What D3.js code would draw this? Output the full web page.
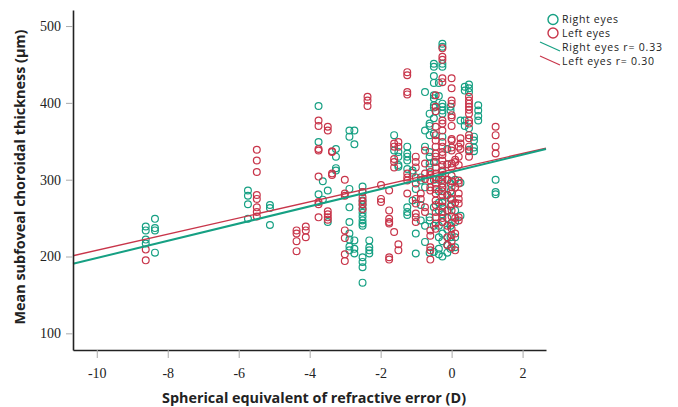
<!DOCTYPE html>
<html>
<head>
<meta charset="utf-8">
<script src="https://cdn.jsdelivr.net/npm/d3@7"></script>
<style>
  body { margin: 0; background: #fff; }
  svg { display: block; }
  .tick text { font-family: "Liberation Serif", "DejaVu Serif", serif; }
</style>
</head>
<body>
<div id="chart"></div>
<script>
const WIDTH = 678;
const HEIGHT = 407;

const GREEN = "#16a083";
const RED = "#c8354a";

// spherical equivalent (D) -> list of choroidal thickness values (µm)
const rightEyes = [
  [-8.62, [239, 234, 222, 217]],
  [-8.36, [249, 237, 234, 205]],
  [-5.74, [286, 279, 268, 249]],
  [-5.12, [267, 263, 241]],
  [-3.75, [396, 349, 281]],
  [-3.63, [298, 274]],
  [-3.49, [286, 245]],
  [-3.26, [340, 330, 315, 312]],
  [-2.88, [364, 356, 288, 264, 245, 230, 222, 213, 208]],
  [-2.74, [364, 346, 221, 210, 204]],
  [-2.51, [291, 284, 273, 267, 262, 257, 252, 247, 243, 240, 199, 193, 186, 166]],
  [-2.32, [221, 212, 208, 204]],
  [-1.62, [358, 338]],
  [-1.5, [336, 330, 319, 317]],
  [-1.25, [343, 334, 330, 325, 314, 264, 258, 254]],
  [-1.1, [312, 309, 273]],
  [-1.01, [288, 230, 204]],
  [-0.87, [303, 299, 267, 247]],
  [-0.75, [414, 364, 343, 290, 240, 219]],
  [-0.62, [386, 373, 370, 358, 336, 330, 321, 316, 251, 247, 205]],
  [-0.5, [451, 447, 435, 426, 410, 406, 397, 394, 380, 360, 323, 300, 264, 240, 206]],
  [-0.36, [426, 409, 300, 285, 270, 260, 240, 225, 210, 203]],
  [-0.26, [477, 473, 451, 447, 399, 395, 390, 386, 356, 310, 290, 270, 255, 245, 230, 220, 200]],
  [-0.12, [340, 320, 300, 280, 260, 250, 235, 215, 205]],
  [-0.03, [395, 390, 295, 285, 275, 265, 240, 225, 210]],
  [0.1, [300, 260, 245, 225, 212]],
  [0.25, [377, 296, 253]],
  [0.37, [421, 416, 377, 370]],
  [0.49, [424, 419, 414, 367, 339]],
  [0.63, [356, 351, 342, 337]],
  [0.75, [397, 390, 383, 377]],
  [1.24, [300, 284, 281]]
];

const leftEyes = [
  [-8.62, [209, 195]],
  [-5.49, [339, 325, 310, 280, 275, 264, 258, 252]],
  [-4.37, [234, 230, 220, 207]],
  [-4.11, [239, 234, 225]],
  [-3.75, [377, 370, 340, 338, 304, 271, 268, 251]],
  [-3.49, [369, 364, 259, 255, 251, 248]],
  [-3.37, [337, 336, 308, 306]],
  [-3.01, [300, 282, 279, 234, 224, 203, 194]],
  [-2.51, [284, 277, 272, 268, 262]],
  [-2.37, [408, 403, 396]],
  [-1.99, [293, 275, 271]],
  [-1.76, [286, 260, 249, 245, 243, 199, 196]],
  [-1.62, [347, 343, 327, 323, 316, 232]],
  [-1.5, [349, 343, 216, 208]],
  [-1.25, [440, 436, 414, 411, 308, 303, 299, 282]],
  [-1.01, [330, 323, 316, 303, 295, 275, 269, 256, 251, 245]],
  [-0.87, [282, 275]],
  [-0.75, [338, 321, 308, 301, 264, 258]],
  [-0.6, [310, 306, 299, 290, 286, 234, 227, 212, 208, 196]],
  [-0.45, [410, 395, 389, 369, 358, 351, 343, 334, 330, 323, 316, 308, 301, 295, 288, 282, 273, 267, 258, 251, 243, 236]],
  [-0.26, [471, 460, 456, 432, 427, 377, 373, 364, 349, 343, 336, 332, 325, 319, 312, 305, 300, 295, 290, 285, 280, 272, 265, 258, 250, 245]],
  [-0.12, [320, 300, 280, 260, 240, 225, 215]],
  [0.0, [432, 419, 403, 399, 384, 381, 370, 353, 351, 342, 338, 321, 316, 305, 298, 290, 282, 275, 268, 260, 252, 244, 236, 228, 220, 212]],
  [0.1, [326, 323, 290, 270, 250, 230, 208]],
  [0.2, [343, 330, 319, 299, 295, 282, 275, 269, 251, 247]],
  [0.25, [354, 347, 340]],
  [0.49, [408, 403, 399, 395, 391, 386, 377, 373, 358, 354, 343, 337, 330]],
  [1.24, [369, 358, 343, 334]]
];

// fit lines: [se, thickness] at the two ends of the x range
const rightFit = [[-10.67, 190.5], [2.66, 340]];
const leftFit = [[-10.67, 201], [2.66, 341]];

const X_TICKS = [-10, -8, -6, -4, -2, 0, 2];
const Y_TICKS = [100, 200, 300, 400, 500];

const X_SCALE = d3.scaleLinear().domain([-10.67, 2.66]).range([73, 546]);
const Y_SCALE = d3.scaleLinear().domain([78.3, 520.9]).range([350, 10]);

const svg = d3.select("#chart").append("svg")
  .attr("width", WIDTH)
  .attr("height", HEIGHT);

// points
function flat(groups) {
  return groups.flatMap(([se, vals]) => vals.map(v => [se, v]));
}

svg.append("g").selectAll("circle")
  .data(flat(rightEyes))
  .enter().append("circle")
  .attr("cx", d => X_SCALE(d[0]))
  .attr("cy", d => Y_SCALE(d[1]))
  .attr("r", 3.4)
  .attr("fill", "none")
  .attr("stroke", GREEN)
  .attr("stroke-width", 1.2);

svg.append("g").selectAll("circle")
  .data(flat(leftEyes))
  .enter().append("circle")
  .attr("cx", d => X_SCALE(d[0]))
  .attr("cy", d => Y_SCALE(d[1]))
  .attr("r", 3.4)
  .attr("fill", "none")
  .attr("stroke", RED)
  .attr("stroke-width", 1.2);

// fit lines
const line = d3.line().x(d => X_SCALE(d[0])).y(d => Y_SCALE(d[1]));
svg.append("path").datum(leftFit)
  .attr("d", line).attr("fill", "none")
  .attr("stroke", RED).attr("stroke-width", 1.4);
svg.append("path").datum(rightFit)
  .attr("d", line).attr("fill", "none")
  .attr("stroke", GREEN).attr("stroke-width", 2);

// axes (plain hyphen for negatives, like the original)
const fmt = d => String(d);
const yAxis = svg.append("g")
  .attr("transform", "translate(73,0)")
  .call(d3.axisLeft(Y_SCALE).tickValues(Y_TICKS).tickFormat(fmt).tickSize(7).tickSizeOuter(0).tickPadding(5));
const xAxis = svg.append("g")
  .attr("transform", "translate(0,350)")
  .call(d3.axisBottom(X_SCALE).tickValues(X_TICKS).tickFormat(fmt).tickSize(8).tickSizeOuter(0).tickPadding(10));

[yAxis, xAxis].forEach(ax => {
  ax.attr("font-family", null);
  ax.select(".domain").attr("stroke", "#222").attr("stroke-width", 1.6);
  ax.selectAll(".tick line").attr("stroke", "#aaa");
  ax.selectAll(".tick text")
    .attr("fill", "#222")
    .style("font-family", "'Liberation Serif', 'DejaVu Serif', serif")
    .style("font-size", "14px");
});

// axis titles
svg.append("text")
  .attr("x", 314).attr("y", 403)
  .attr("text-anchor", "middle")
  .attr("font-family", "'Open Sans', sans-serif")
  .attr("font-weight", "bold")
  .attr("font-size", "14.5px")
  .attr("fill", "#222")
  .attr("textLength", 304)
  .attr("lengthAdjust", "spacingAndGlyphs")
  .text("Spherical equivalent of refractive error (D)");

svg.append("text")
  .attr("transform", "translate(25,177) rotate(-90)")
  .attr("text-anchor", "middle")
  .attr("font-family", "'Open Sans', sans-serif")
  .attr("font-weight", "bold")
  .attr("font-size", "15px")
  .attr("fill", "#222")
  .attr("textLength", 295)
  .attr("lengthAdjust", "spacingAndGlyphs")
  .text("Mean subfoveal choroidal thickness (µm)");

// legend
const legend = svg.append("g").attr("font-family", "'Open Sans', sans-serif")
  .attr("font-size", "10.5px").attr("fill", "#222");
const legendItems = [
  { type: "circle", color: GREEN, label: "Right eyes", y: 19.5 },
  { type: "circle", color: RED, label: "Left eyes", y: 33 },
  { type: "line", color: GREEN, label: "Right eyes r= 0.33", y: 47 },
  { type: "line", color: RED, label: "Left eyes r= 0.30", y: 61 }
];
legendItems.forEach(it => {
  if (it.type === "circle") {
    legend.append("circle")
      .attr("cx", 553).attr("cy", it.y).attr("r", 5)
      .attr("fill", "none").attr("stroke", it.color).attr("stroke-width", 1.4);
  } else {
    legend.append("line")
      .attr("x1", 540).attr("y1", it.y - 5)
      .attr("x2", 560).attr("y2", it.y + 4)
      .attr("stroke", it.color).attr("stroke-width", 1.2);
  }
  legend.append("text")
    .attr("x", 562).attr("y", it.y)
    .attr("dy", "0.35em")
    .attr("textLength", it.type === "circle" ? (it.label.startsWith("Right") ? 56 : 48) : (it.label.startsWith("Right") ? 100 : 92))
    .text(it.label);
});
</script>
</body>
</html>
